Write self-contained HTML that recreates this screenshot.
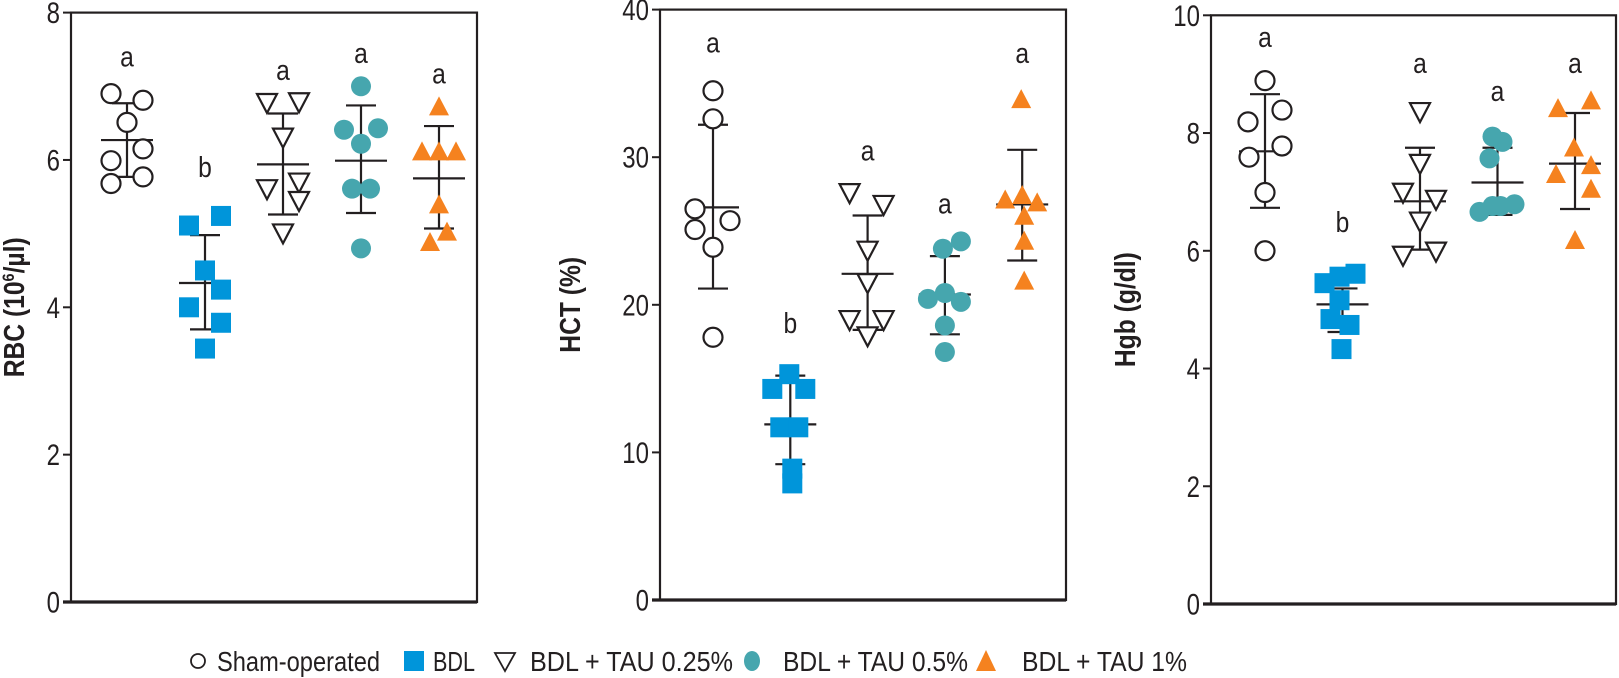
<!DOCTYPE html>
<html><head><meta charset="utf-8">
<style>
html,body{margin:0;padding:0;background:#fff;}
svg{display:block;}
text{font-family:"Liberation Sans",sans-serif;fill:#231f20;}
</style></head>
<body>
<svg id="chart" width="1619" height="678" viewBox="0 0 1619 678" xmlns="http://www.w3.org/2000/svg"></svg>
<script>
const groups = ["Sham-operated","BDL","BDL + TAU 0.25%","BDL + TAU 0.5%","BDL + TAU 1%"];
const rbcValues = [
 [6.90,6.81,6.51,6.15,5.99,5.77,5.68],
 [5.11,5.24,4.50,4.24,4.00,3.79,3.44],
 [6.80,6.81,6.33,5.63,5.72,5.47,5.03],
 [7.00,6.41,6.43,6.22,5.61,5.61,4.80],
 [6.70,6.09,6.09,6.09,5.37,5.00,4.86]];
const rbcMean = [6.27,4.33,5.94,5.99,5.75];
const rbcUpper = [6.77,4.98,6.63,6.74,6.46];
const rbcLower = [5.77,3.70,5.26,5.28,5.07];
const rbcLetters = ["a","b","a","a","a"];
const rbcLetterY = [7.39,5.89,7.21,7.44,7.16];
const rbcTicks = [0,2,4,6,8];

const hctValues = [
 [34.5,32.6,26.5,25.7,25.1,23.9,17.8],
 [15.3,14.3,14.3,11.7,11.7,8.9,7.9],
 [27.7,26.9,23.8,21.6,19.1,19.1,18.0],
 [24.3,23.8,20.4,20.8,20.2,18.6,16.8],
 [33.8,27.0,27.3,26.8,25.9,24.2,21.5]];
const hctMean = [26.6,11.9,22.1,20.7,26.8];
const hctUpper = [32.2,15.2,26.05,23.3,30.5];
const hctLower = [21.1,9.2,18.3,18.0,23.0];
const hctLetters = ["a","b","a","a","a"];
const hctLetterY = [37.7,18.7,30.4,26.8,37.0];
const hctTicks = [0,10,20,30,40];

const hgbValues = [
 [8.89,8.19,8.39,7.78,7.59,6.99,6.00],
 [5.45,5.56,5.61,5.16,4.84,4.74,4.33],
 [8.39,7.51,7.02,6.90,6.53,5.95,6.02],
 [7.94,7.85,7.57,6.76,6.66,6.76,6.79],
 [8.39,8.52,7.72,7.27,7.42,7.02,6.15]];
const hgbMean = [7.69,5.09,6.84,7.16,7.48];
const hgbUpper = [8.66,5.36,7.75,7.75,8.34];
const hgbLower = [6.73,4.62,6.02,6.61,6.71];
const hgbLetters = ["a","b","a","a","a"];
const hgbLetterY = [9.61,6.47,9.17,8.70,9.17];
const hgbTicks = [0,2,4,6,8,10];

// jitter offsets (layout, in pixels) per panel / group / point
const rbcJit = [
 [-16,16,0,16,-16,16,-16],
 [-16,16,0,16,-16,16,0],
 [-16,16,0,-16,16,16,0],
 [0,-17,17,0,-9,9,0],
 [0,-17,0,17,0,8,-9]];
const hctJit = [
 [0,0,-18,17,-18,0,0],
 [-1,-18,15,-10,8,2,2],
 [-18,16,0,0,-18,16,0],
 [16,-2,-17,0,16,0,0],
 [-1,-17,0,15,2,2,2]];
const hgbJit = [
 [0,-17,17,17,-16,0,0],
 [-18,-3,13,-3,-12,7,-1],
 [0,0,-17,16,0,-17,16],
 [-5,5,-8,-5,-18,3,17],
 [-17,16,-1,-19,16,16,0]];

const svg = document.getElementById('chart');
const NS = 'http://www.w3.org/2000/svg';
function mk(tag, attrs, parent){
  const e = document.createElementNS(NS, tag);
  for (const k in attrs) e.setAttribute(k, attrs[k]);
  (parent||svg).appendChild(e);
  return e;
}
const colors = ['#fff','#0095da','#fff','#46a6ae','#f5821f'];

function marker(g, type, cx, cy, p){
  let e;
  if (type===0){ e = mk('circle',{cx:cx,cy:cy,r:9.5,fill:'#fff',stroke:'#231f20','stroke-width':2.2},g); }
  else if (type===1){ e = mk('rect',{x:cx-10,y:cy-10,width:20,height:20,fill:colors[1]},g); }
  else if (type===2){ e = mk('polygon',{points:`${cx-10},${cy-7} ${cx+10},${cy-7} ${cx},${cy+12}`,fill:'#fff',stroke:'#231f20','stroke-width':2.2},g); }
  else if (type===3){ e = mk('circle',{cx:cx,cy:cy,r:10,fill:colors[3]},g); }
  else { e = mk('polygon',{points:`${cx-10},${cy+7} ${cx+10},${cy+7} ${cx},${cy-12}`,fill:colors[4]},g); }
  
  
  return e;
}

function panel(cfg){
  const g = mk('g',{});
  
  
  const ymax = cfg.ticks[cfg.ticks.length-1];
  const Y = v => cfg.y0 + (cfg.yTop - cfg.y0) * v / ymax;
  const X = i => cfg.cx0 + i*cfg.dx;
  const fr = mk('rect',{x:cfg.x0,y:cfg.yTop,width:cfg.x1-cfg.x0,height:cfg.y0-cfg.yTop,fill:'none',stroke:'#231f20','stroke-width':2.2},g);
  
  
  const bl = mk('line',{x1:cfg.x0-8,x2:cfg.x1,y1:cfg.y0,y2:cfg.y0,stroke:'#231f20','stroke-width':3.2},g);
  
  
  cfg.ticks.forEach(t=>{
    const tl = mk('line',{x1:cfg.x0-8,x2:cfg.x0,y1:Y(t),y2:Y(t),stroke:'#231f20','stroke-width':2},g);
    
    
    const ax = cfg.x0-11;
    const tx = mk('text',{x:ax,y:Y(t)+10.5,'text-anchor':'end','font-size':30,transform:`translate(${ax},0) scale(0.8,1) translate(${-ax},0)`},g);
    tx.textContent = t;
    
    
  });
  const mid = (cfg.yTop+cfg.y0)/2;
  const tt = mk('text',{x:0,y:0,'text-anchor':'middle','font-size':29,'font-weight':'bold',transform:`translate(${cfg.titleX},${mid}) rotate(-90) scale(0.85,1)`},g);
  tt.innerHTML = cfg.title;
  
  
  for (let i=0;i<5;i++){
    const cx = X(i);
    const eb = mk('g',{},g);
    
    
    mk('line',{x1:cx,x2:cx,y1:Y(cfg.upper[i]),y2:Y(cfg.lower[i]),stroke:'#231f20','stroke-width':2.2},eb);
    mk('line',{x1:cx-15,x2:cx+15,y1:Y(cfg.upper[i]),y2:Y(cfg.upper[i]),stroke:'#231f20','stroke-width':2.2},eb);
    mk('line',{x1:cx-15,x2:cx+15,y1:Y(cfg.lower[i]),y2:Y(cfg.lower[i]),stroke:'#231f20','stroke-width':2.2},eb);
    const mb = mk('line',{x1:cx-26,x2:cx+26,y1:Y(cfg.mean[i]),y2:Y(cfg.mean[i]),stroke:'#231f20','stroke-width':2.2},g);
    
    
    cfg.vals[i].forEach((v,j)=>{ marker(g,i,cx+cfg.jit[i][j],Y(v),i+'-'+j); });
    const lt = mk('text',{x:cx,y:Y(cfg.letterY[i])+9,'text-anchor':'middle','font-size':29,transform:`translate(${cx},0) scale(0.85,1) translate(${-cx},0)`},g);
    lt.textContent = cfg.letters[i];
    
    
  }
}

panel({name:'rbc-panel',x0:71,x1:477,yTop:12.6,y0:602,cx0:127,dx:78,ticks:rbcTicks,vals:rbcValues,jit:rbcJit,mean:rbcMean,upper:rbcUpper,lower:rbcLower,letters:rbcLetters,letterY:rbcLetterY,titleX:24,title:'RBC (10<tspan font-size="17" dy="-10">6</tspan><tspan dy="10">/µl)</tspan>'});
panel({name:'hct-panel',x0:660,x1:1066,yTop:9.6,y0:600,cx0:713,dx:77.3,ticks:hctTicks,vals:hctValues,jit:hctJit,mean:hctMean,upper:hctUpper,lower:hctLower,letters:hctLetters,letterY:hctLetterY,titleX:580,title:'HCT (%)'});
panel({name:'hgb-panel',x0:1211,x1:1616,yTop:15.3,y0:604,cx0:1265,dx:77.5,ticks:hgbTicks,vals:hgbValues,jit:hgbJit,mean:hgbMean,upper:hgbUpper,lower:hgbLower,letters:hgbLetters,letterY:hgbLetterY,titleX:1135,title:'Hgb (g/dl)'});

const lg = mk('g',{});


const legX = [198,414,505,752,986];
const legTX = [217,433,530,783,1022];
const legTW = [163,42,203,185,165];
for (let i=0;i<5;i++){
  const it = mk('g',{},lg);
  
  
  const cy = 661;
  if (i===0) mk('circle',{cx:legX[i],cy:cy,r:7,fill:'#fff',stroke:'#231f20','stroke-width':1.8},it);
  else if (i===1) mk('rect',{x:legX[i]-10,y:cy-10,width:20,height:20,fill:colors[1]},it);
  else if (i===2) mk('polygon',{points:`${legX[i]-10},${cy-8} ${legX[i]+10},${cy-8} ${legX[i]},${cy+10}`,fill:'#fff',stroke:'#231f20','stroke-width':1.8},it);
  else if (i===3) mk('ellipse',{cx:legX[i],cy:cy,rx:8,ry:10,fill:colors[3]},it);
  else mk('polygon',{points:`${legX[i]-10},${cy+10} ${legX[i]+10},${cy+10} ${legX[i]},${cy-11}`,fill:colors[4]},it);
  const t = mk('text',{x:legTX[i],y:671,'font-size':28,textLength:legTW[i],lengthAdjust:'spacingAndGlyphs'},it);
  t.textContent = groups[i];
}
</script>
</body></html>
